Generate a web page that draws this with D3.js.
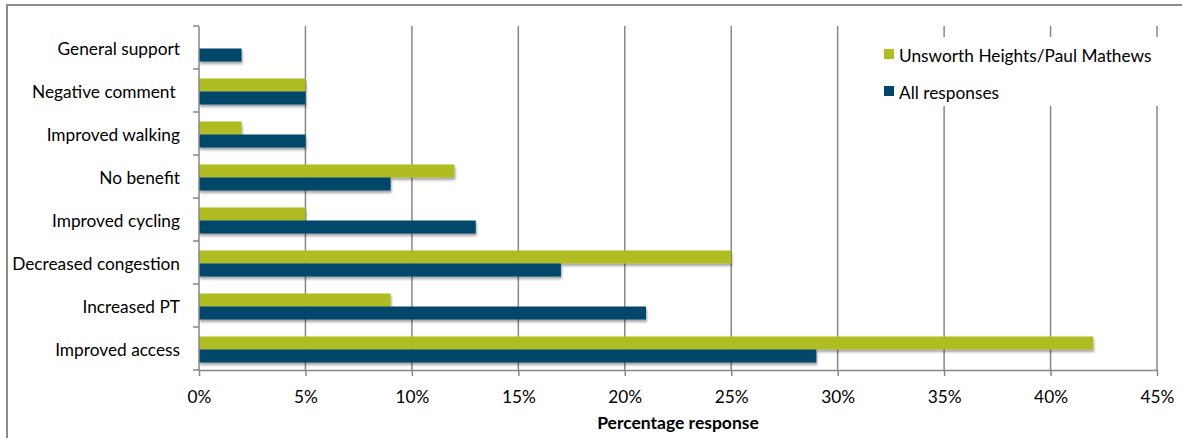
<!DOCTYPE html>
<html>
<head>
<meta charset="utf-8">
<script src="https://cdn.jsdelivr.net/npm/d3@7"></script>
<style>
  html, body { margin: 0; padding: 0; background: #fff; }
  svg { display: block; font-family: Lato, "Open Sans", sans-serif; }
  .cat-label { white-space: pre; }
</style>
</head>
<body>
<svg id="chart" width="1182" height="438"></svg>
<script>
// Response categories, top to bottom
const categories = [
  "General support",
  "Negative comment ",
  "Improved walking",
  "No benefit",
  "Improved cycling",
  "Decreased congestion",
  "Increased PT",
  "Improved access"
];
// Percentage of responses per category
const unsworthValues = [0, 5, 2, 12, 5, 25, 9, 42];
const allValues      = [2, 5, 5, 9, 13, 17, 21, 29];
const seriesNames = ["Unsworth Heights/Paul Mathews", "All responses"];
const seriesColors = ["#afbd22", "#00466b"];
const xTicks = [0, 5, 10, 15, 20, 25, 30, 35, 40, 45];
const xTitle = "Percentage response";

const svg = d3.select("#chart");
const W = 1182, H = 438;
const plot = { left: 199, right: 1157, top: 26, bottom: 370 };
const gridColor = "#878787";
const fontSize = 17.3;

// outer frame
svg.append("path")
  .attr("d", `M7,${H + 2} L7,5 L${W + 2},5`)
  .attr("fill", "none").attr("stroke", "#8c8c8c").attr("stroke-width", 2);

// soft drop shadow under bars
const defs = svg.append("defs");
const f = defs.append("filter").attr("id", "shadow")
  .attr("x", "-5%").attr("y", "-30%").attr("width", "110%").attr("height", "180%");
f.append("feDropShadow").attr("dx", 1).attr("dy", 2.5).attr("stdDeviation", 1.2)
  .attr("flood-color", "#000").attr("flood-opacity", 0.35);

const x = d3.scaleLinear().domain([0, 45]).range([plot.left, plot.right]);
const y = d3.scaleBand().domain(categories).range([plot.top, plot.bottom]).paddingInner(0).paddingOuter(0);
const inner = d3.scaleBand().domain([0, 1]).range([0, y.bandwidth()]).paddingInner(0).paddingOuter(0.65);

// vertical gridlines
svg.append("g").selectAll("line").data(xTicks.filter(d => d > 0)).join("line")
  .attr("x1", d => x(d)).attr("x2", d => x(d))
  .attr("y1", plot.top).attr("y2", plot.bottom)
  .attr("stroke", gridColor).attr("stroke-width", 1.5);

// bars
const series = [unsworthValues, allValues];
const barG = svg.append("g").attr("filter", "url(#shadow)");
series.forEach((vals, si) => {
  barG.append("g").selectAll("rect").data(categories).join("rect")
    .attr("x", x(0))
    .attr("y", (c) => y(c) + inner(si) + 1)
    .attr("width", (c, i) => Math.max(0, x(vals[i]) - x(0)))
    .attr("height", inner.bandwidth())
    .attr("fill", seriesColors[si])
    .attr("display", (c, i) => vals[i] > 0 ? null : "none");
});

// y axis line and category ticks
const yAxisG = svg.append("g");
yAxisG.append("line")
  .attr("x1", plot.left).attr("x2", plot.left)
  .attr("y1", plot.top).attr("y2", plot.bottom)
  .attr("stroke", gridColor).attr("stroke-width", 1.5);
const boundaries = categories.map(c => y(c)).concat([plot.bottom]);
yAxisG.selectAll("line.tick").data(boundaries).join("line").attr("class", "tick")
  .attr("x1", plot.left - 6).attr("x2", plot.left)
  .attr("y1", d => d).attr("y2", d => d)
  .attr("stroke", gridColor).attr("stroke-width", 1.5);
yAxisG.selectAll("text").data(categories).join("text")
  .attr("class", "cat-label")
  .attr("x", 180).attr("y", c => y(c) + y.bandwidth() / 2 + 1)
  .attr("text-anchor", "end").attr("dominant-baseline", "central")
  .attr("font-size", fontSize).attr("fill", "#000")
  .text(c => c);

// x axis
const xAxis = d3.axisBottom(x).tickValues(xTicks).tickSize(6).tickSizeOuter(0)
  .tickFormat(d => d + "%");
const xg = svg.append("g").attr("transform", `translate(0,${plot.bottom})`).call(xAxis);
xg.select(".domain").attr("stroke", gridColor).attr("stroke-width", 1.5);
xg.selectAll(".tick line").attr("stroke", gridColor).attr("stroke-width", 1.5);
xg.selectAll(".tick text").attr("font-size", fontSize).attr("fill", "#000")
  .attr("font-family", "Lato, sans-serif").attr("dy", 0).attr("y", 33);

// axis title
svg.append("text")
  .attr("x", (plot.left + plot.right) / 2).attr("y", 429)
  .attr("text-anchor", "middle").attr("font-size", 17.5).attr("font-weight", "bold")
  .attr("fill", "#000").text(xTitle);

// legend
const lg = svg.append("g");
lg.append("rect").attr("x", 872).attr("y", 37).attr("width", 298).attr("height", 69).attr("fill", "#fff");
seriesNames.forEach((name, i) => {
  const cy = 54 + i * 37;
  lg.append("rect").attr("x", 884).attr("y", cy - 5).attr("width", 10).attr("height", 10)
    .attr("fill", seriesColors[i]);
  lg.append("text").attr("x", 899).attr("y", cy + 1).attr("dominant-baseline", "central")
    .attr("font-size", fontSize).attr("fill", "#000").text(name);
});
</script>
</body>
</html>
